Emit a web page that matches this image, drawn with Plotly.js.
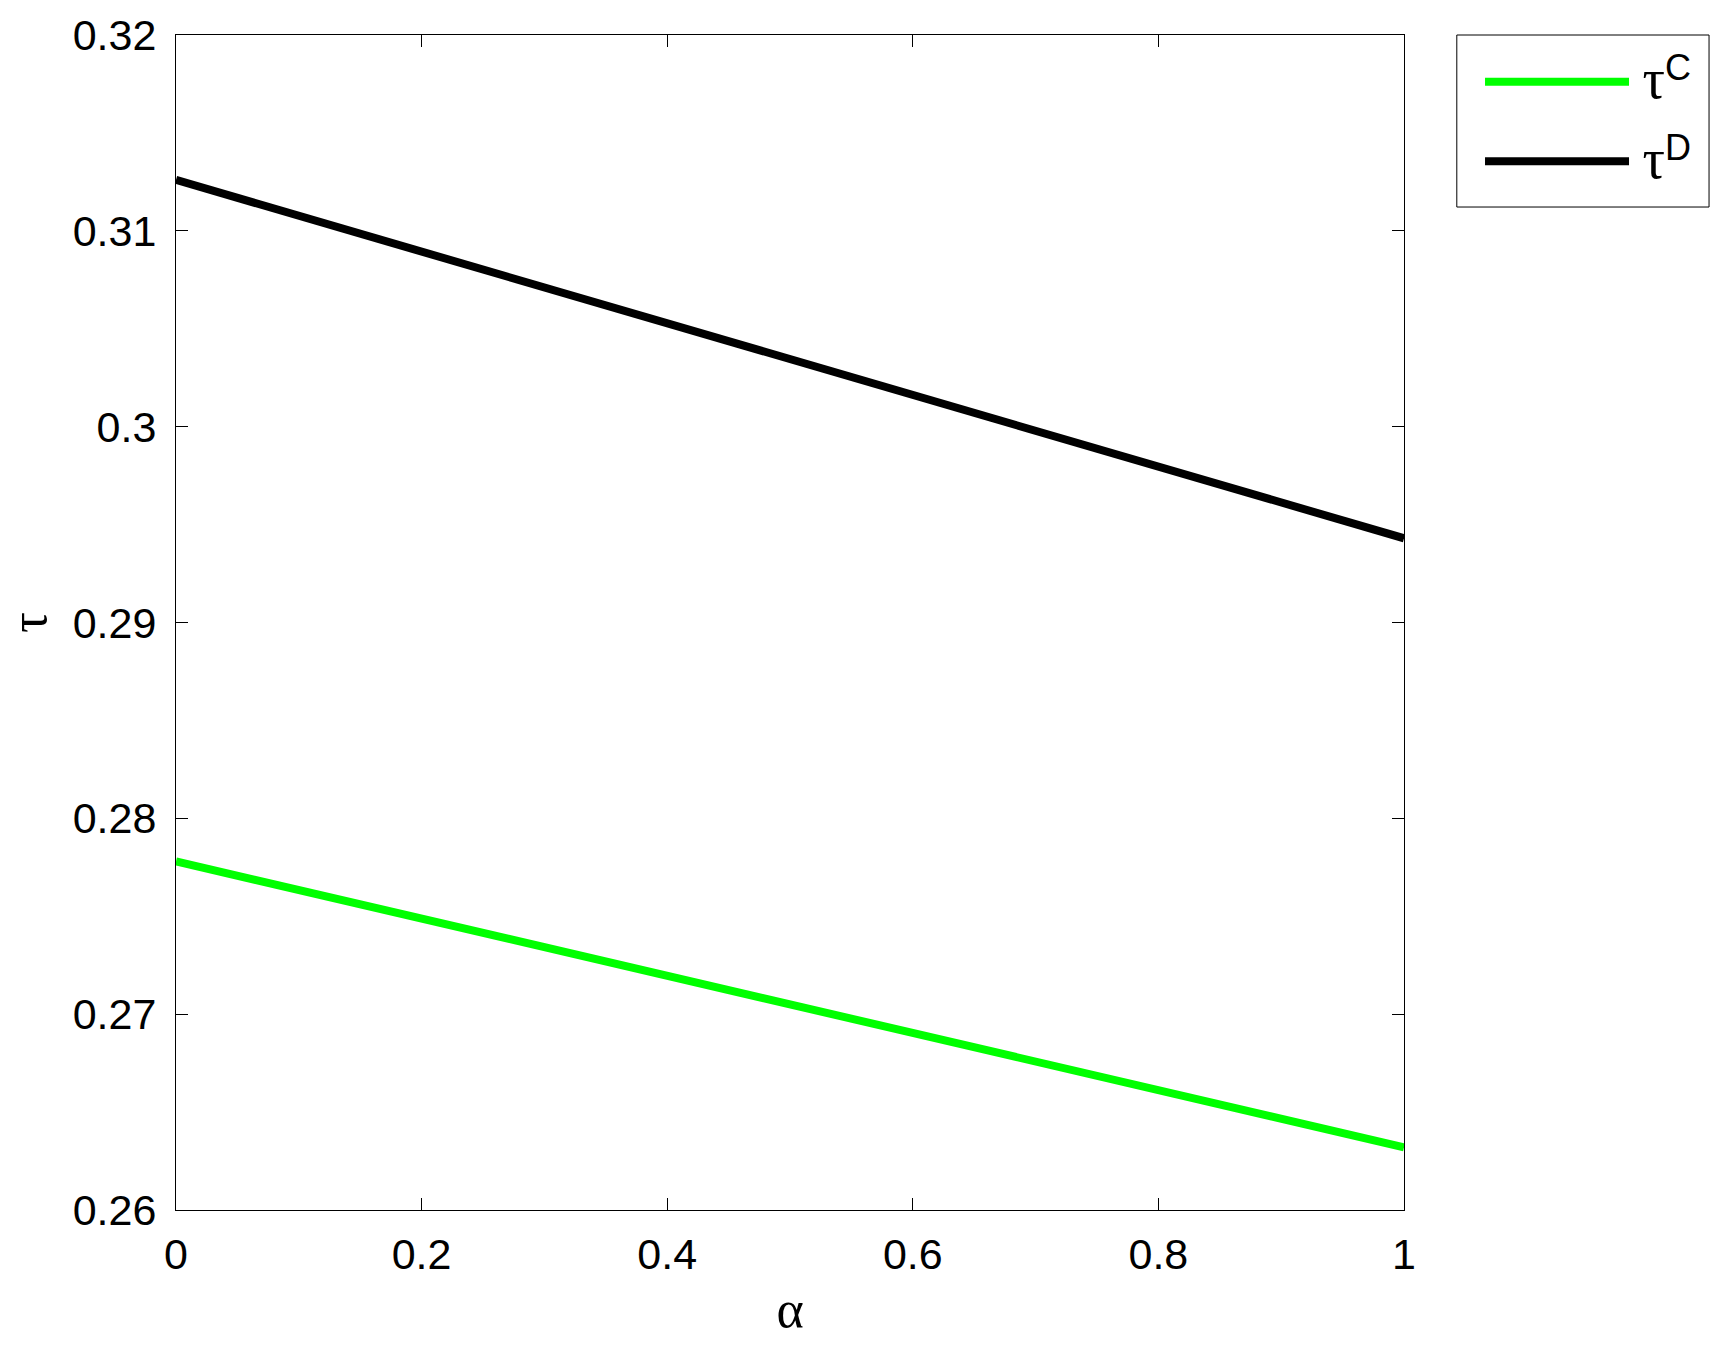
<!DOCTYPE html>
<html>
<head>
<meta charset="utf-8">
<script src="https://cdn.plot.ly/plotly-3.0.1.min.js"></script>
<style>
  html, body { margin: 0; padding: 0; background: #fff; }
  #chart { width: 1719px; height: 1348px; }
</style>
</head>
<body>
<div id="chart"></div>
<script>
// alpha values and the two tau curves
const alpha = [0, 0.25, 0.5, 0.75, 1];
const tauC = [0.2778, 0.27415, 0.2705, 0.26685, 0.2632];
const tauD = [0.3126, 0.30803, 0.30345, 0.29888, 0.2943];

const serif = "Liberation Serif, Times New Roman, serif";
const sans = "Liberation Sans, Arial, sans-serif";

const traceC = {
  x: alpha,
  y: tauC,
  type: "scatter",
  mode: "lines",
  legendgroup: "c",
  name: '\u2009<span style="font-family:Liberation Serif;font-size:56px">τ</span><sup><span style="font-size:36px">C</span></sup>',
  line: { color: "#00ff00", width: 8 },
};

const traceD = {
  x: alpha,
  y: tauD,
  type: "scatter",
  mode: "lines",
  legendgroup: "d",
  name: '\u2009<span style="font-family:Liberation Serif;font-size:56px">τ</span><sup><span style="font-size:36px">D</span></sup>',
  line: { color: "#000000", width: 8 },
};

const axisStyle = {
  showline: true,
  linecolor: "black",
  linewidth: 1,
  mirror: "ticks",
  ticks: "inside",
  ticklen: 12,
  tickwidth: 1,
  tickcolor: "black",
  showgrid: false,
  zeroline: false,
  tickfont: { family: sans, size: 43, color: "black" },
};

const layout = {
  width: 1719,
  height: 1348,
  margin: { l: 176, r: 315, t: 35, b: 138 },
  paper_bgcolor: "white",
  plot_bgcolor: "white",
  showlegend: true,
  legend: {
    x: 1.0619,
    y: 0.989,
    xanchor: "left",
    yanchor: "top",
    bgcolor: "rgba(0,0,0,0)",
    borderwidth: 0,
    itemwidth: 144,
    tracegroupgap: 22,
    font: { family: sans, size: 42, color: "black" },
  },
  // legend frame
  shapes: [
    {
      type: "rect",
      xref: "paper",
      yref: "paper",
      x0: 1.043,
      x1: 1.2484,
      y0: 0.8536,
      y1: 1,
      line: { color: "black", width: 1 },
      fillcolor: "rgba(0,0,0,0)",
      layer: "below",
    },
  ],
  xaxis: Object.assign({}, axisStyle, {
    range: [0, 1],
    dtick: 0.2,
    tick0: 0,
    ticklabelstandoff: 6,
    title: { text: "α", font: { family: serif, size: 52, color: "black" }, standoff: 14 },
  }),
  yaxis: Object.assign({}, axisStyle, {
    range: [0.26, 0.32],
    dtick: 0.01,
    tick0: 0.26,
    ticklabelstandoff: 10,
    title: { text: "τ", font: { family: serif, size: 52, color: "black" }, standoff: 48 },
  }),
};

Plotly.newPlot("chart", [traceC, traceD], layout, { displayModeBar: false });
</script>
</body>
</html>
